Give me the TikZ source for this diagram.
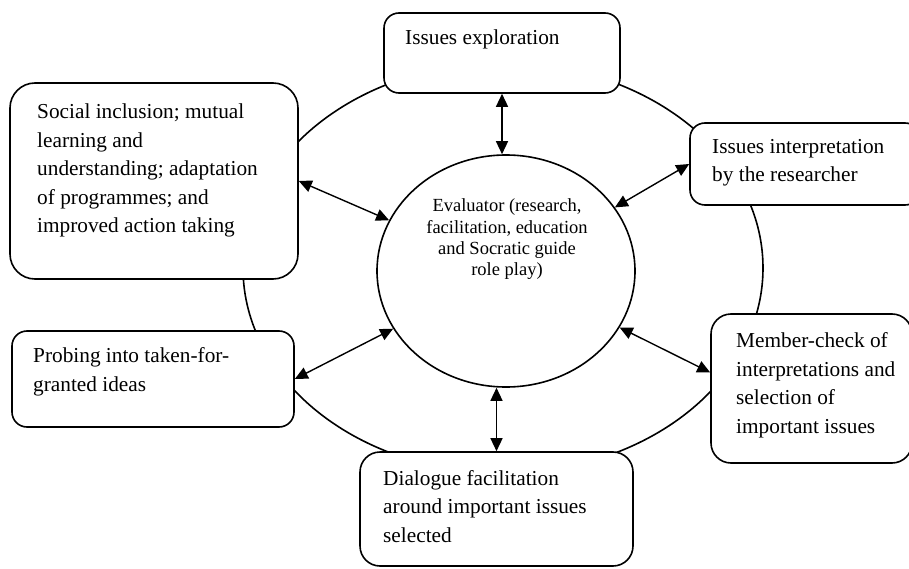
\documentclass[tikz,border=0pt]{standalone}
\usepackage{fontspec}
\setmainfont{Liberation Serif}
\usetikzlibrary{arrows.meta,positioning,shapes.geometric,calc}
\tikzset{
  stagebox/.style={draw, rounded corners=15pt, fill=white, line width=1.6pt, inner sep=0pt},
  stagetext/.style={anchor=base west, inner sep=0pt, align=left, font=\fontsize{21.3}{28.5}\selectfont},
  evaltext/.style={anchor=base, inner sep=0pt, align=center, font=\fontsize{18.5}{21}\selectfont},
  evalnode/.style={ellipse, draw, line width=1.6pt, minimum width=258pt, minimum height=232pt, inner sep=0pt},
  ringnode/.style={ellipse, draw, line width=1.6pt, minimum width=520pt, minimum height=410pt, inner sep=0pt},
  link/.style={{Triangle[length=13pt,width=12pt]}-{Triangle[length=13pt,width=12pt]}, line width=1.4pt},
}

\begin{document}
\begin{tikzpicture}[x=1pt,y=-1pt]
\useasboundingbox (0,0) rectangle (909,569);
\clip (0,0) rectangle (909,569);
% outer cycle
\node[ringnode] (ring) at (503,268) {};
% the six stages
\node[stagebox, minimum width=236pt, minimum height=80pt] (explore) at (502,53) {};
\node[stagebox, rounded corners=25pt, minimum width=288pt, minimum height=196pt] (social) at (154,181) {};
\node[stagebox, minimum width=230pt, minimum height=82pt] (interp) at (805,164) {};
\node[stagebox, rounded corners=20pt, minimum width=201pt, minimum height=149pt] (member) at (811.5,388.5) {};
\node[stagebox, minimum width=282pt, minimum height=96pt] (probe) at (153,379) {};
\node[stagebox, rounded corners=20pt, minimum width=273pt, minimum height=114pt] (dial) at (496.5,509) {};
% texts sit on the baseline of their last line
\node[stagetext] (exploretxt) at (405,45) {Issues exploration};
\node[stagetext] (socialtxt) at (37,233) {Social inclusion; mutual\\learning and\\understanding; adaptation\\of programmes; and\\improved action taking};
\node[stagetext] (interptxt) at (712,182) {Issues interpretation\\by the researcher};
\node[stagetext] (membertxt) at (736,433) {Member-check of\\interpretations and\\selection of\\important issues};
\node[stagetext] (probetxt) at (33,391) {Probing into taken-for-\\granted ideas};
\node[stagetext] (dialtxt) at (383,542) {Dialogue facilitation\\around important issues\\selected};
% evaluator in the middle
\node[evalnode] (eval) at (506,271) {};
\node[evaltext] (evaltxt) at (507,275) {Evaluator (research,\\facilitation, education\\and Socratic guide\\role play)};
\draw[link] (explore.south) -- (explore.south |- eval.north);
\draw[link] (social.east) -- (eval);
\draw[link] (interp.west) -- (eval);
\draw[link] ([yshift=16pt]member.west) -- (eval);
\draw[link] (probe.east) -- (eval);
\draw[link] (dial.north) -- (dial.north |- eval.south);
\end{tikzpicture}
\end{document}
